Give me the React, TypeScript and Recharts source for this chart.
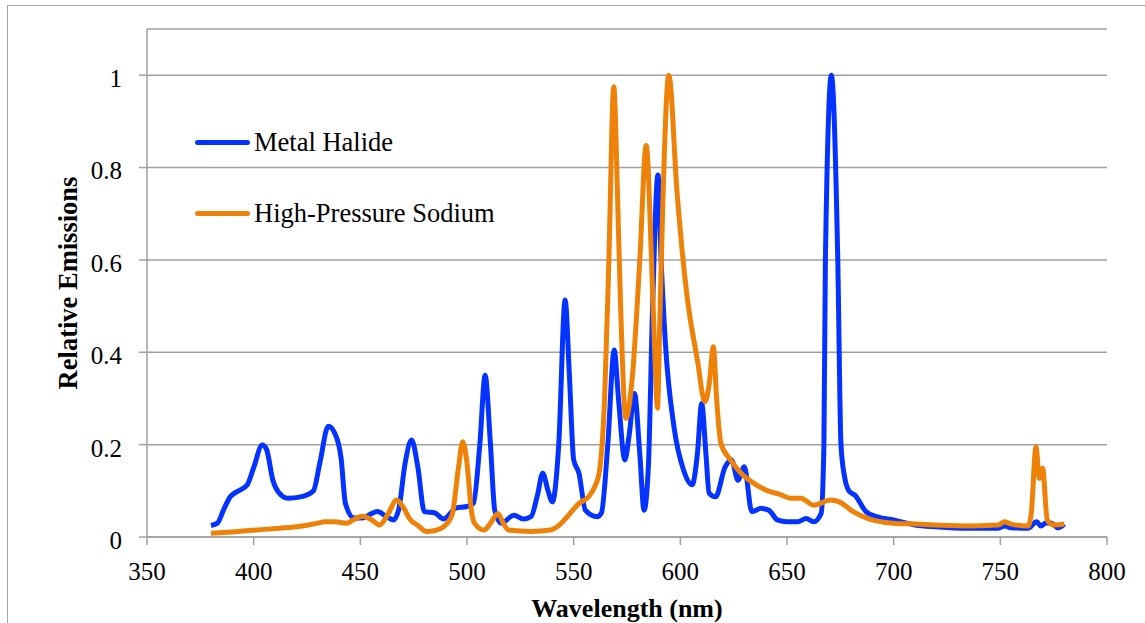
import { LineChart, Line, XAxis, YAxis, CartesianGrid, Legend } from 'recharts';

const FONT = '"Liberation Serif", "Times New Roman", serif';
const GRID = '#a0a0a0';

const mhWavelength = [
  380, 383, 386, 389, 393, 397, 400, 404, 406, 409, 412, 416, 422, 428, 431, 435, 438, 441, 443, 447,
  451, 455, 458, 462, 465.5, 468, 471, 474, 477, 480, 485, 489, 495, 500, 503, 506, 508.5, 511, 513, 516,
  522, 526.5, 530, 533, 535.5, 538, 540, 543, 546, 548, 550, 552.5, 555.5, 561, 563, 566, 569, 571, 574, 576,
  578.5, 581, 583, 585, 587, 589.5, 591, 593, 597, 601.5, 605.5, 608, 610, 612, 613.5, 616.5, 621, 624, 627, 630,
  633.5, 638, 641.5, 645.5, 650, 655, 659, 662.5, 666, 667.3, 668, 670.8, 673.8, 675.3, 677, 679, 682, 687, 692, 700,
  710, 720, 733, 749, 752, 755, 763, 767, 769, 771.5, 774, 777, 780,
];
const mhEmission = [
  0.025, 0.03, 0.06, 0.087, 0.1, 0.113, 0.15, 0.199, 0.19, 0.123, 0.095, 0.084, 0.087, 0.1, 0.16, 0.24, 0.225, 0.17, 0.073, 0.041,
  0.041, 0.05, 0.055, 0.045, 0.037, 0.06, 0.16, 0.21, 0.15, 0.055, 0.052, 0.039, 0.063, 0.066, 0.073, 0.2, 0.35, 0.2, 0.058, 0.03,
  0.047, 0.039, 0.044, 0.09, 0.138, 0.1, 0.076, 0.2, 0.513, 0.35, 0.167, 0.138, 0.058, 0.044, 0.052, 0.2, 0.405, 0.3, 0.167, 0.22,
  0.311, 0.18, 0.058, 0.15, 0.5, 0.784, 0.6, 0.42, 0.239, 0.145, 0.113, 0.18, 0.289, 0.18, 0.095, 0.087, 0.152, 0.167, 0.123, 0.152,
  0.055, 0.062, 0.058, 0.037, 0.033, 0.033, 0.04, 0.033, 0.051, 0.2, 0.6, 1.0, 0.6, 0.2, 0.13, 0.1, 0.09, 0.055, 0.044, 0.037,
  0.026, 0.022, 0.019, 0.019, 0.024, 0.02, 0.019, 0.033, 0.024, 0.031, 0.03, 0.02, 0.028,
];

const hpsWavelength = [
  380, 390, 398, 412, 420, 428, 434, 438, 443.5, 447, 451, 455, 459, 463, 467, 470, 473.5, 477, 481, 485,
  489, 493, 496, 498, 500, 502, 503.5, 508, 511, 514.5, 517, 519.5, 530, 539, 543, 547, 552.5, 557, 560, 562,
  564.5, 566.5, 568.8, 570.5, 572, 574.5, 577.5, 581, 584, 586.5, 588, 589.3, 590.3, 591.5, 594.6, 598.5, 603, 608, 611.5, 613.5,
  615.5, 617, 619, 623.5, 628.5, 634.5, 641, 647, 651.5, 656.5, 662.5, 670.5, 674.5, 681, 688, 700, 710, 733, 749, 752,
  755, 763, 764.5, 766.7, 768.3, 769.8, 772, 775, 780,
];
const hpsEmission = [
  0.008, 0.011, 0.014, 0.019, 0.022, 0.028, 0.033, 0.033, 0.03, 0.038, 0.045, 0.038, 0.026, 0.05, 0.08, 0.065, 0.037, 0.025, 0.012, 0.014,
  0.022, 0.048, 0.15, 0.206, 0.16, 0.06, 0.03, 0.015, 0.03, 0.051, 0.03, 0.015, 0.012, 0.015, 0.025, 0.044, 0.073, 0.087, 0.11, 0.14,
  0.3, 0.6, 0.975, 0.75, 0.5, 0.257, 0.347, 0.6, 0.848, 0.6, 0.4, 0.279, 0.45, 0.672, 1.0, 0.744, 0.527, 0.383, 0.293, 0.33,
  0.412, 0.3, 0.203, 0.167, 0.138, 0.116, 0.1, 0.092, 0.084, 0.084, 0.069, 0.08, 0.076, 0.055, 0.04, 0.03, 0.028, 0.024, 0.026, 0.033,
  0.028, 0.024, 0.051, 0.195, 0.127, 0.149, 0.037, 0.026, 0.028,
];

const xTicks = [350, 400, 450, 500, 550, 600, 650, 700, 750, 800];
const yTicks = [0, 0.2, 0.4, 0.6, 0.8, 1];

const seriesNames = ['Metal Halide', 'High-Pressure Sodium'];
const seriesColors = ['#0433ff', '#ee8208'];

const mhData = mhWavelength.map((nm, i) => ({ nm, value: mhEmission[i] }));
const hpsData = hpsWavelength.map((nm, i) => ({ nm, value: hpsEmission[i] }));

// legend drawn in series order (Recharts would sort it by name)
const renderLegend = () => (
  <div style={{ fontFamily: FONT, fontSize: 26.5, color: '#000' }}>
    {seriesNames.map((name, i) => (
      <div
        key={name}
        style={{ display: 'flex', alignItems: 'center', height: 30, marginTop: i ? 41 : 0 }}
      >
        <span
          style={{
            display: 'inline-block',
            width: 55,
            height: 5,
            borderRadius: 3,
            background: seriesColors[i],
            marginRight: 4,
          }}
        />
        <span style={{ lineHeight: '30px', whiteSpace: 'nowrap' }}>{name}</span>
      </div>
    ))}
  </div>
);

export default function App() {
  return (
    <div
      style={{
        position: 'fixed',
        left: 0,
        top: 0,
        width: 1145,
        height: 623,
        overflow: 'hidden',
        background: '#fff',
        fontFamily: FONT,
      }}
    >
      <div
        style={{
          position: 'absolute',
          left: 7,
          top: 5,
          width: 1200,
          height: 700,
          border: '1px solid #a6a6a6',
        }}
      />
      <div style={{ position: 'absolute', left: 0, top: 0 }}>
        <LineChart width={1145} height={623} margin={{ top: 29, right: 38, bottom: 0, left: 0 }}>
          <CartesianGrid vertical={false} stroke={GRID} strokeWidth={1.5} />
          <XAxis
            type="number"
            dataKey="nm"
            domain={[350, 800]}
            ticks={xTicks}
            allowDataOverflow
            height={86}
            stroke={GRID}
            strokeWidth={1.5}
            tickSize={8}
            tickMargin={17}
            tick={{ fontFamily: FONT, fontSize: 25, fill: '#000' }}
            label={{
              value: 'Wavelength (nm)',
              position: 'insideBottom',
              offset: 6,
              style: { fontFamily: FONT, fontSize: 26, fontWeight: 'bold', fill: '#000' },
            }}
          />
          <YAxis
            type="number"
            domain={[0, 1.1]}
            ticks={yTicks}
            allowDataOverflow
            width={147}
            stroke={GRID}
            strokeWidth={1.5}
            tickSize={8}
            tickMargin={17}
            tick={{ fontFamily: FONT, fontSize: 25, fill: '#000', dy: 3 }}
            label={{
              value: 'Relative Emissions',
              angle: -90,
              position: 'center',
              dx: -6,
              style: { fontFamily: FONT, fontSize: 26.5, fontWeight: 'bold', fill: '#000' },
            }}
          />
          <Legend
            layout="vertical"
            align="center"
            verticalAlign="middle"
            content={renderLegend}
            wrapperStyle={{ left: 195, top: 127, width: 'auto', height: 'auto' }}
          />
          <Line
            data={mhData}
            dataKey="value"
            name={seriesNames[0]}
            type="monotone"
            stroke={seriesColors[0]}
            strokeWidth={5}
            dot={false}
            activeDot={false}
            isAnimationActive={false}
          />
          <Line
            data={hpsData}
            dataKey="value"
            name={seriesNames[1]}
            type="monotone"
            stroke={seriesColors[1]}
            strokeWidth={5}
            dot={false}
            activeDot={false}
            isAnimationActive={false}
          />
        </LineChart>
      </div>
    </div>
  );
}
